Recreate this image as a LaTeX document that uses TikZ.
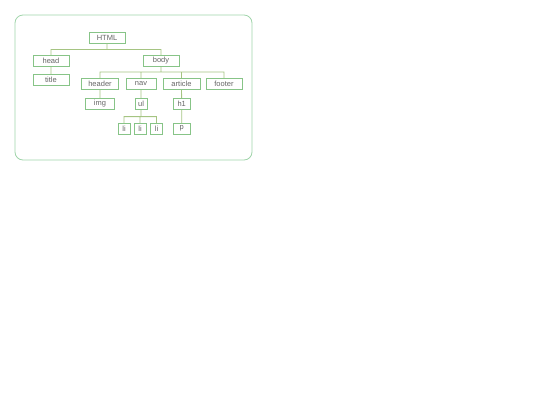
\documentclass[tikz,border=0pt]{standalone}
\usepackage{fontspec}
\setmainfont{Liberation Sans}
\usetikzlibrary{positioning}
\definecolor{nodegreen}{RGB}{135,196,135}
\definecolor{edgegreen}{RGB}{165,196,130}
\definecolor{framegreen}{RGB}{160,212,170}
\definecolor{textgray}{RGB}{100,100,100}
\tikzset{tag node/.style={shape=rectangle,
    draw=nodegreen, line width=0.8pt, align=center,
    text=textgray, font=\fontsize{7.5}{9}\selectfont,
    inner sep=0pt, minimum height=11pt, minimum width=36pt}}
\tikzset{tree edge/.style={draw=edgegreen, line width=0.8pt}}

\begin{document}
\begin{tikzpicture}[x=1pt,y=-1pt]
    \useasboundingbox (0,0) rectangle (540,405);
    \draw[framegreen, line width=0.8pt, rounded corners=8pt] (15,15) rectangle (252,160);

    \node[tag node] (html) at (107,37.5) {HTML};
    \node[tag node] (head) at (51,61) {head};
    \node[tag node] (body) at (161,61) {body};
    \node[tag node] (title) at (51,80) {title};

	\node[tag node, minimum width=37pt] (header) at (100,84) {header};
	\node[tag node, minimum width=30pt] (nav) at (141,84) {nav};
	\node[tag node, minimum width=37pt] (article) at (181.5,84) {article};
	\node[tag node] (footer) at (224,84) {footer};

	\node[tag node, minimum width=29pt] (img) at (100,104) {img};
	\node[tag node, minimum width=12pt] (ul) at (141,104) {ul};
	\node[tag node, minimum width=17pt] (h1) at (181.7,104) {h1};

	\node[tag node, minimum width=12pt] (li1) at (124,128.7) {li};
	\node[tag node, minimum width=12pt] (li2) at (140,128.7) {li};
	\node[tag node, minimum width=12pt] (li3) at (156.5,128.7) {li};
	\node[tag node, minimum width=17pt] (p) at (181.7,128.7) {p};

    \path[tree edge]
    (html.south) -- +(0,6) -| (head.north)
    (html.south) -- +(0,6) -| (body.north)
    (head) -- (title)

    (body.south) -- +(0,5) -| (header.north)
    (body.south) -- +(0,5) -| (nav.north)
    (body.south) -- +(0,5) -| (article.north)
    (body.south) -- +(0,5) -| (footer.north)

    (header) -- (img)
    (nav) -- (ul)
    (article) -- (h1)

    (ul.south) -- +(0,6.7) -| (li1.north)
    (ul.south) -- +(0,6.7) -| (li2.north)
    (ul.south) -- +(0,6.7) -| (li3.north)
    (h1) -- (p)
    ;
\end{tikzpicture}
\end{document}
